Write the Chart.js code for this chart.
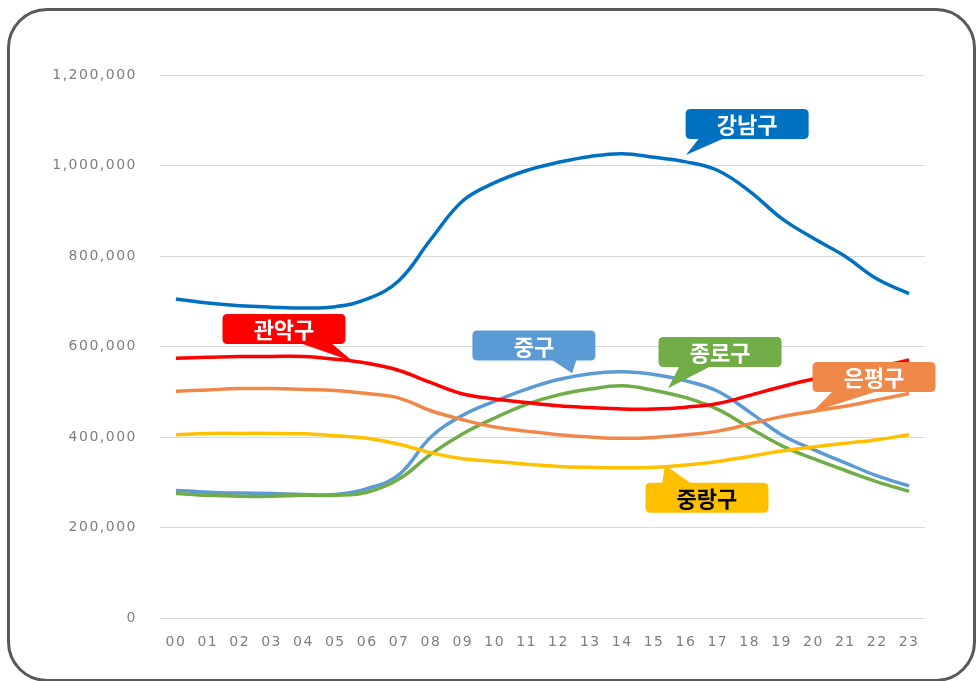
<!DOCTYPE html>
<html>
<head>
<meta charset="utf-8">
<script src="https://cdn.jsdelivr.net/npm/chart.js@4/dist/chart.umd.min.js"></script>
<style>
  body { margin: 0; background: #fff; }
  #wrap { position: relative; width: 978px; height: 681px; overflow: hidden; }
  #frame {
    position: absolute; left: 7px; top: 8px; width: 963px; height: 668px;
    border: 3.5px solid #595959; border-radius: 40px; pointer-events: none;
  }
</style>
</head>
<body>
<div id="wrap">
  <canvas id="chart" width="978" height="681"></canvas>
  <div id="frame"></div>
</div>
<script>
var hours = ["00","01","02","03","04","05","06","07","08","09","10","11","12","13","14","15","16","17","18","19","20","21","22","23"];

var gangnam = [705000,696000,690000,687000,685000,688000,705000,746000,837000,922000,962000,989000,1007000,1020000,1026000,1018000,1008000,989000,943000,883000,839000,799000,749000,717000];
var gwanak = [574000,576000,578000,578000,578000,572000,563000,547000,520000,495000,484000,476000,469000,465000,462000,462000,466000,474000,492000,511000,528000,540000,554000,570000];
var eunpyeong = [501000,504000,507000,507000,505000,503000,496000,486000,458000,438000,422000,413000,405000,400000,397000,399000,405000,413000,429000,445000,457000,468000,482000,496000];
var jungnang = [405000,408000,408000,408000,407000,403000,397000,384000,365000,352000,346000,340000,335000,333000,332000,333000,338000,346000,357000,369000,378000,386000,394000,405000];
var junggu = [282000,278000,276000,275000,273000,273000,286000,317000,400000,448000,479000,506000,527000,540000,544000,538000,524000,501000,455000,405000,372000,343000,314000,292000];
var jongno = [275000,271000,269000,269000,271000,271000,278000,307000,362000,407000,442000,472000,493000,506000,513000,503000,487000,461000,420000,381000,352000,326000,301000,280000];

var yTicks = [0, 200000, 400000, 600000, 800000, 1000000, 1200000];

// callouts: box centre and pointer tip in data space (hour index, value)
var callouts = [
  { text: "강남구", color: "#0070C0", ink: "#fff", box: [17.92, 1091700], tip: [16.0, 1023000], base: [-47, -20] },
  { text: "관악구", color: "#FF0000", ink: "#fff", box: [3.39, 638700], tip: [5.55, 567000], base: [13, 46] },
  { text: "중구", color: "#5B9BD5", ink: "#fff", box: [11.23, 602000], tip: [12.43, 541000], base: [16, 43] },
  { text: "종로구", color: "#70AD47", ink: "#fff", box: [17.07, 588000], tip: [15.44, 508000], base: [-40, -7] },
  { text: "은평구", color: "#F0884A", ink: "#fff", box: [21.9, 532600], tip: [19.96, 455000], base: [-40, 7] },
  { text: "중랑구", color: "#FFC000", ink: "#000", box: [16.66, 266000], tip: [15.34, 338000], base: [-45, -14], top: true }
];

function roundRect(ctx, x, y, w, h, r) {
  ctx.beginPath();
  ctx.moveTo(x + r, y);
  ctx.lineTo(x + w - r, y);
  ctx.quadraticCurveTo(x + w, y, x + w, y + r);
  ctx.lineTo(x + w, y + h - r);
  ctx.quadraticCurveTo(x + w, y + h, x + w - r, y + h);
  ctx.lineTo(x + r, y + h);
  ctx.quadraticCurveTo(x, y + h, x, y + h - r);
  ctx.lineTo(x, y + r);
  ctx.quadraticCurveTo(x, y, x + r, y);
  ctx.closePath();
}

var calloutPlugin = {
  id: "callouts",
  beforeDraw: function (chart) {
    chart.ctx.save();
    chart.ctx.letterSpacing = "1.5px";
  },
  beforeDatasetsDraw: function (chart) {
    chart.ctx.restore();
  },
  afterDatasetsDraw: function (chart) {
    var ctx = chart.ctx;
    var xs = chart.scales.x, ys = chart.scales.y;
    var w = 123, h = 30;
    callouts.forEach(function (c) {
      var cx = xs.getPixelForValue(c.box[0]);
      var cy = ys.getPixelForValue(c.box[1]);
      var tx = xs.getPixelForValue(c.tip[0]);
      var ty = ys.getPixelForValue(c.tip[1]);
      ctx.save();
      ctx.fillStyle = c.color;
      roundRect(ctx, cx - w / 2, cy - h / 2, w, h, 5);
      ctx.fill();
      var by = c.top ? cy - h / 2 + 2 : cy + h / 2 - 2;
      ctx.beginPath();
      ctx.moveTo(cx + c.base[0], by);
      ctx.lineTo(tx, ty);
      ctx.lineTo(cx + c.base[1], by);
      ctx.closePath();
      ctx.fill();
      ctx.fillStyle = c.ink;
      ctx.font = 'bold 22px "Noto Sans CJK KR"';
      ctx.textAlign = "center";
      ctx.textBaseline = "middle";
      ctx.fillText(c.text, cx, cy + 1);
      ctx.restore();
    });
  }
};

function line(label, data, color) {
  return {
    label: label,
    data: data,
    borderColor: color,
    backgroundColor: color,
    borderWidth: 3.5,
    pointRadius: 0,
    tension: 0.4,
    fill: false
  };
}

new Chart(document.getElementById("chart"), {
  type: "line",
  data: {
    labels: hours,
    datasets: [
      line("관악구", gwanak, "#FF0000"),
      line("강남구", gangnam, "#0070C0"),
      line("은평구", eunpyeong, "#F0884A"),
      line("중랑구", jungnang, "#FFC000"),
      line("종로구", jongno, "#70AD47"),
      line("중구", junggu, "#5B9BD5")
    ]
  },
  options: {
    responsive: false,
    animation: false,
    layout: { padding: { left: 20, right: 53, top: 75, bottom: 23 } },
    plugins: { legend: { display: false }, tooltip: { enabled: false } },
    scales: {
      x: {
        offset: true,
        grid: { display: false, drawTicks: false },
        border: { display: false },
        ticks: { color: "#7f7f7f", padding: 16, maxRotation: 0, autoSkip: false, font: { family: "DejaVu Sans", size: 14 } },
        afterFit: function (s) { s.height = 40; }
      },
      y: {
        min: 0,
        max: 1200000,
        afterBuildTicks: function (s) { s.ticks = yTicks.map(function (v) { return { value: v }; }); },
        grid: { color: "#d9d9d9", lineWidth: 1, drawTicks: false },
        border: { display: false },
        ticks: {
          color: "#7f7f7f",
          padding: 23,
          font: { family: "DejaVu Sans", size: 14 },
          callback: function (v) { return v.toLocaleString("en-US"); }
        },
        afterFit: function (s) { s.width = 140; }
      }
    }
  },
  plugins: [calloutPlugin]
});
</script>
</body>
</html>
